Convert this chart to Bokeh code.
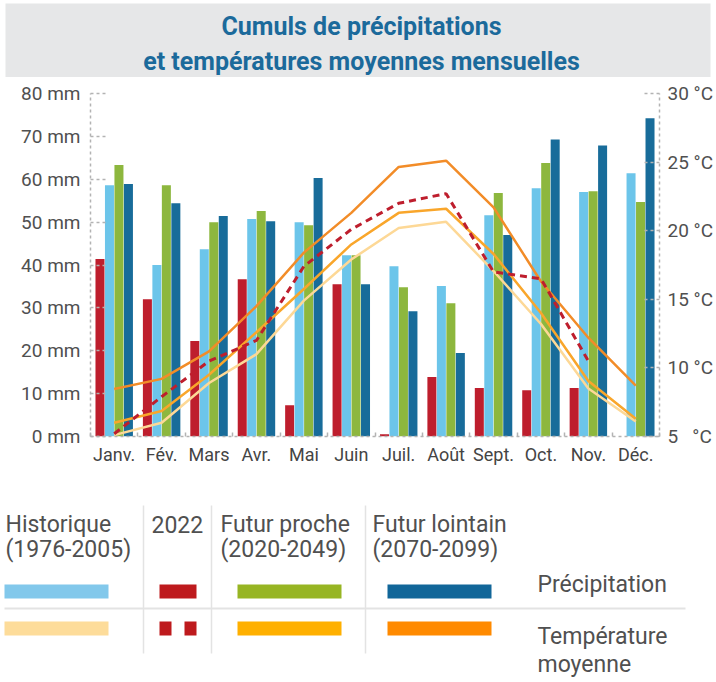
import numpy as np
from bokeh.plotting import figure
from bokeh.models import Range1d, LinearAxis, FixedTicker
from bokeh.layouts import column
from bokeh.embed import file_html
from bokeh.resources import INLINE
from bokeh.core.properties import value

# ---------------- data ----------------
months = ["Janv.", "Fév.", "Mars", "Avr.", "Mai", "Juin", "Juil.", "Août",
          "Sept.", "Oct.", "Nov.", "Déc."]

precip_2022 = [41.4, 32.0, 22.3, 36.7, 7.3, 35.5, 0.5, 13.9, 11.3, 10.8, 11.3, np.nan]
precip_hist = [58.6, 40.0, 43.7, 50.7, 50.0, 42.3, 39.7, 35.1, 51.6, 57.9, 57.0, 61.4]
precip_proche = [63.3, 58.6, 50.0, 52.6, 49.3, 42.3, 34.8, 31.1, 56.8, 63.8, 57.2, 54.7]
precip_lointain = [58.9, 54.4, 51.4, 50.2, 60.3, 35.5, 29.2, 19.5, 47.0, 69.3, 67.9, 74.2]

temp_hist = [5.1, 6.0, 8.9, 11.0, 14.9, 17.9, 20.2, 20.65, 17.06, 13.2, 8.5, 6.1]
temp_proche = [6.0, 6.86, 9.5, 12.6, 15.75, 19.0, 21.3, 21.6, 18.3, 14.0, 9.05, 6.3]
temp_lointain = [8.46, 9.2, 11.2, 14.5, 18.4, 21.3, 24.65, 25.1, 21.7, 16.3, 12.2, 8.7]
temp_2022 = [5.2, 7.9, 10.5, 12.0, 17.4, 20.1, 22.0, 22.7, 17.0, 16.5, 10.5, np.nan]

precip_ticks = [0, 10, 20, 30, 40, 50, 60, 70, 80]
temp_ticks = [5, 10, 15, 20, 25, 30]

legend_series_l1 = ["Historique", "2022", "Futur proche", "Futur lointain"]
legend_series_l2 = ["(1976-2005)", "", "(2020-2049)", "(2070-2099)"]
legend_rows = ["Précipitation", "Température", "moyenne"]
title_lines = ["Cumuls de précipitations", "et températures moyennes mensuelles"]

# ---------------- styles ----------------
FONT = "Roboto"
C_2022 = "#BE1E2D"
C_HIST = "#6CC5EA"
C_PROCHE = "#8DB73E"
C_LOINT = "#186C9A"
T_HIST = "#FDD896"
T_PROCHE = "#F9A62B"
T_LOINT = "#F28C28"
AX = "#B3B3B3"
TXT = "#505050"

W = 716


def bare(fig):
    fig.grid.visible = False
    fig.outline_line_color = None
    return fig


# ---------------- title ----------------
tf = bare(figure(width=W, height=77, x_range=Range1d(0, W), y_range=Range1d(77, 0),
                 output_backend="svg", toolbar_location=None, min_border=0,
                 x_axis_location=None, y_axis_location=None, frame_align=False))
tf.quad(left=[5], right=[710], top=[3], bottom=[77], fill_color="#E6E7E8", line_color=None)
tf.text(x=[361, 361], y=[26, 61], text=title_lines, text_align="center",
        text_baseline="alphabetic", text_font=value(FONT), text_font_style="bold",
        text_font_size="25px", text_color="#1B6A9B")

# ---------------- main chart ----------------
p = bare(figure(width=W, height=400, x_range=Range1d(0, 12), y_range=Range1d(0, 80),
                output_backend="svg", toolbar_location=None,
                min_border_left=90, min_border_right=56, min_border_top=16,
                min_border_bottom=41, x_axis_location=None, y_axis_location=None,
                frame_align=False))
p.extra_y_ranges = {"temp": Range1d(5, 30)}

xc = np.arange(12) + 0.5
bw = 0.19
p.vbar(x=xc - 0.3, top=precip_2022, width=bw, fill_color=C_2022, line_color=None)
p.vbar(x=xc - 0.1, top=precip_hist, width=bw, fill_color=C_HIST, line_color=None)
p.vbar(x=xc + 0.1, top=precip_proche, width=bw, fill_color=C_PROCHE, line_color=None)
p.vbar(x=xc + 0.3, top=precip_lointain, width=bw, fill_color=C_LOINT, line_color=None)

p.line(xc, temp_hist, y_range_name="temp", line_color=T_HIST, line_width=2.5)
p.line(xc, temp_proche, y_range_name="temp", line_color=T_PROCHE, line_width=2.5)
p.line(xc, temp_lointain, y_range_name="temp", line_color=T_LOINT, line_width=2.5)
p.line(xc, temp_2022, y_range_name="temp", line_color=C_2022, line_width=3,
       line_dash="7 5")


def style_axis(ax, size="19px"):
    ax.axis_line_color = AX
    ax.axis_line_dash = "3 3"
    ax.axis_line_width = 1.5
    ax.major_tick_line_color = AX
    ax.major_tick_line_dash = "3 3"
    ax.major_tick_line_width = 1.5
    ax.major_tick_in = 15
    ax.major_tick_out = 0
    ax.minor_tick_line_color = None
    ax.major_label_text_font = FONT
    ax.major_label_text_font_size = size
    ax.major_label_text_color = TXT


left = LinearAxis(ticker=FixedTicker(ticks=precip_ticks),
                  major_label_overrides={t: f"{t} mm" for t in precip_ticks})
style_axis(left)
left.major_label_standoff = 10
p.add_layout(left, "left")

right_labels = {t: f"{t} °C" for t in temp_ticks}
right_labels[5] = "5\u00a0\u00a0\u00a0°C"
right = LinearAxis(y_range_name="temp", ticker=FixedTicker(ticks=temp_ticks),
                   major_label_overrides=right_labels)
style_axis(right, "19px")
right.major_label_standoff = 8
p.add_layout(right, "right")

bottom = LinearAxis(ticker=FixedTicker(ticks=list(xc), minor_ticks=list(range(13))),
                    major_label_overrides={float(x): m for x, m in zip(xc, months)})
style_axis(bottom, "18px")
bottom.major_tick_in = 0
bottom.major_tick_line_color = None
bottom.minor_tick_line_color = AX
bottom.minor_tick_line_width = 1.5
bottom.minor_tick_in = 4
bottom.minor_tick_out = 0
bottom.major_label_standoff = 7
bottom.major_label_text_color = "#444444"
p.add_layout(bottom, "below")

# ---------------- legend ----------------
lf = bare(figure(width=W, height=205, x_range=Range1d(0, W), y_range=Range1d(682, 477),
                 output_backend="svg", toolbar_location=None, min_border=0,
                 x_axis_location=None, y_axis_location=None, frame_align=False))

SEP = "#E3E3E3"
lf.segment(x0=[143, 211, 365], x1=[143, 211, 365], y0=[505] * 3, y1=[653] * 3,
           line_color=SEP, line_width=1.5)
lf.segment(x0=[4], x1=[685], y0=[608], y1=[608], line_color=SEP, line_width=2)

hdr_x = [5, 151, 220, 372]
txt_kw = dict(text_align="left", text_baseline="alphabetic", text_font=value(FONT),
              text_font_size="23px", text_color=TXT)
lf.text(x=hdr_x, y=[524] * 4, text=legend_series_l1, **txt_kw)
lf.text(x=hdr_x, y=[549] * 4, text=legend_series_l2, **txt_kw)

# swatches
sw_left = [4, 159, 237, 387]
sw_right = [108, 196, 341, 491]
lf.quad(left=sw_left, right=sw_right, top=[584] * 4, bottom=[598] * 4,
        fill_color=["#82C8EB", "#BE1A1D", "#97B523", "#116699"], line_color=None)
lf.quad(left=[4, 237, 387], right=[108, 341, 491], top=[621] * 3, bottom=[635] * 3,
        fill_color=["#FDDC9A", "#FFB000", "#FF8A00"], line_color=None)
lf.quad(left=[159, 184], right=[171, 196], top=[621] * 2, bottom=[635] * 2,
        fill_color="#BE1A1D", line_color=None)

lf.text(x=[537, 537, 537], y=[584, 636, 664], text=legend_rows, **txt_kw)

layout = column(tf, p, lf, spacing=0)
open("out.html", "w").write(file_html(layout, INLINE))
